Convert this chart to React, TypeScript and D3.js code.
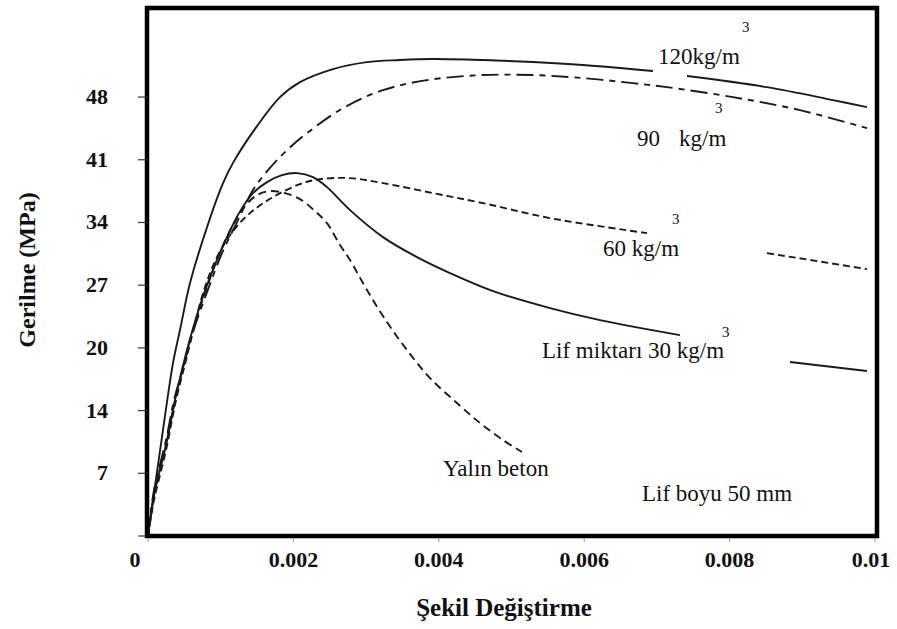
import React from "react";
import * as d3 from "d3";

// strain values are in units of 1e-3 (mm/mm x 1000), stress in MPa
const strain120 = [0, 0.206, 0.344, 0.44, 0.578, 0.812, 1.032, 1.183, 1.499, 1.816, 2.091, 2.545, 3.012, 3.466, 3.92, 4.608, 5.296, 5.983, 6.946, null, 7.414, 8.514, 9.422, 9.89];
const stress120 = [0, 11.66, 19.03, 22.66, 27.83, 33.99, 38.83, 41.25, 45.1, 48.29, 49.94, 51.38, 52.15, 52.37, 52.48, 52.37, 52.15, 51.82, 51.16, null, 50.61, 49.39, 47.96, 47.19];

const strain90 = [0, 0.083, 0.248, 0.358, 0.454, 0.619, 0.812, 1.018, 1.238, 1.444, 1.651, 1.884, 2.187, 2.682, 3.232, 3.838, 4.608, 5.296, 5.983, 6.671, 7.139, 8.047, 8.968, 9.89];
const stress90 = [0, 5.06, 10.56, 14.96, 17.71, 22.44, 26.84, 31.13, 34.76, 38.06, 40.26, 42.24, 44.33, 47.08, 49.06, 50.17, 50.72, 50.72, 50.39, 49.83, 49.39, 48.29, 46.86, 44.88];

const strain60 = [0, 0.083, 0.248, 0.385, 0.523, 0.633, 0.77, 0.949, 1.169, 1.403, 1.719, 2.091, 2.366, 2.779, 3.232, 3.92, 4.608, 5.53, 6.864, null, 8.514, 9.89];
const stress60 = [0, 3.96, 9.46, 14.96, 19.36, 22.99, 27.06, 30.69, 33.55, 35.53, 37.29, 38.72, 39.27, 39.38, 38.83, 37.73, 36.63, 34.98, 33.33, null, 31.13, 29.37];

const strain30 = [0, 0.083, 0.248, 0.371, 0.536, 0.674, 0.812, 1.018, 1.252, 1.444, 1.637, 1.843, 2.05, 2.27, 2.462, 2.641, 2.779, 3.232, 3.7, 4.154, 4.746, 5.53, 6.217, 7.318, null, 8.831, 9.89];
const stress30 = [0, 4.51, 10.01, 14.96, 20.46, 24.31, 27.61, 31.68, 35.53, 37.73, 38.94, 39.71, 39.93, 39.49, 38.39, 36.96, 35.86, 32.89, 30.69, 28.93, 26.95, 25.08, 23.76, 22.11, null, 19.14, 18.15];

const strainPlain = [0, 0.083, 0.248, 0.371, 0.536, 0.674, 0.812, 0.99, 1.169, 1.334, 1.499, 1.678, 1.884, 2.091, 2.297, 2.462, 2.641, 2.779, 3.012, 3.287, 3.563, 3.879, 4.25, 4.567, 4.883, 5.144];
const stressPlain = [0, 4.51, 10.23, 14.74, 20.24, 24.09, 27.39, 31.24, 34.21, 36.3, 37.51, 37.95, 37.73, 37.07, 35.75, 34.43, 32.01, 30.36, 27.06, 23.54, 20.46, 17.38, 14.63, 12.43, 10.56, 9.24];

const xTickValues = [0, 2, 4, 6, 8, 10];
const xTickLabels = ["0", "0.002", "0.004", "0.006", "0.008", "0.01"];
const yTickValues = [6.9, 13.8, 20.7, 27.6, 34.5, 41.4, 48.3];
const yTickLabels = ["7", "14", "20", "27", "34", "41", "48"];

const W = 897;
const H = 629;
const L = 148, R = 875, T = 8, B = 536;

const xScale = d3.scaleLinear().domain([0, 10]).range([L, R]);
const yScale = d3.scaleLinear().domain([0, 58.1]).range([B, T]);

type Pt = [number | null, number | null];
const zip = (xs: (number | null)[], ys: (number | null)[]): Pt[] => xs.map((x, i) => [x, ys[i]]);

const line = d3
  .line<Pt>()
  .defined((d) => d[0] !== null && d[1] !== null)
  .x((d) => xScale(d[0] as number))
  .y((d) => yScale(d[1] as number))
  .curve(d3.curveCatmullRom.alpha(0.5));

const series = [
  { key: "120", data: zip(strain120, stress120), dash: "none", w: 1.9 },
  { key: "90", data: zip(strain90, stress90), dash: "17,6,6,6", w: 1.9 },
  { key: "60", data: zip(strain60, stress60), dash: "7,4", w: 1.9 },
  { key: "30", data: zip(strain30, stress30), dash: "none", w: 1.9 },
  { key: "plain", data: zip(strainPlain, stressPlain), dash: "8,5", w: 1.9 },
];

const serif = "'Liberation Serif', 'Times New Roman', serif";

export default function App() {
  return (
    <svg width={W} height={H} style={{ position: "absolute", left: 0, top: 0, background: "#fff", fontFamily: serif }}>
      <rect x={0} y={0} width={W} height={H} fill="#fff" />
      {series.map((s) => (
        <path key={s.key} d={line(s.data) || ""} fill="none" stroke="#1a1a1a" strokeWidth={s.w} strokeDasharray={s.dash} />
      ))}
      {/* frame */}
      <rect x={147} y={8} width={730} height={528} fill="none" stroke="#000" strokeWidth={4.5} />
      {/* y ticks */}
      {yTickValues.map((v, i) => (
        <g key={"y" + i}>
          <line x1={138} x2={147} y1={yScale(v)} y2={yScale(v)} stroke="#333" strokeWidth={1.2} />
          <text x={108} y={yScale(v) + 7} textAnchor="end" fontSize={22} fontWeight="bold" fill="#111">
            {yTickLabels[i]}
          </text>
        </g>
      ))}
      <line x1={138} x2={147} y1={B} y2={B} stroke="#333" strokeWidth={1.2} />
      {/* x ticks */}
      {xTickValues.map((v, i) => (
        <g key={"x" + i}>
          <line x1={xScale(v)} x2={xScale(v)} y1={538} y2={542} stroke="#999" strokeWidth={1} />
          <text x={xScale(v) - (i === 0 ? 13 : i === 5 ? 4 : 0)} y={567} textAnchor="middle" fontSize={22} fontWeight="bold" fill="#111">
            {xTickLabels[i]}
          </text>
        </g>
      ))}
      {/* axis titles */}
      <text x={504} y={616} textAnchor="middle" fontSize={25} fontWeight="bold" fill="#111">
        Şekil Değiştirme
      </text>
      <text transform="translate(35,270) rotate(-90)" textAnchor="middle" fontSize={24} fontWeight="bold" fill="#111">
        Gerilme (MPa)
      </text>
      {/* annotations */}
      <g fontSize={23} fill="#111">
        <text x={658} y={64}>120kg/m</text>
        <text x={637} y={146}>90</text>
        <text x={679} y={146}>kg/m</text>
        <text x={603} y={256}>60 kg/m</text>
        <text x={542} y={358}>Lif miktarı 30 kg/m</text>
        <text x={443} y={476}>Yalın beton</text>
        <text x={642} y={501}>Lif boyu 50 mm</text>
      </g>
      <g fontSize={15} fill="#111">
        <text x={742} y={32}>3</text>
        <text x={715} y={113}>3</text>
        <text x={672} y={224}>3</text>
        <text x={722} y={337}>3</text>
      </g>
    </svg>
  );
}
